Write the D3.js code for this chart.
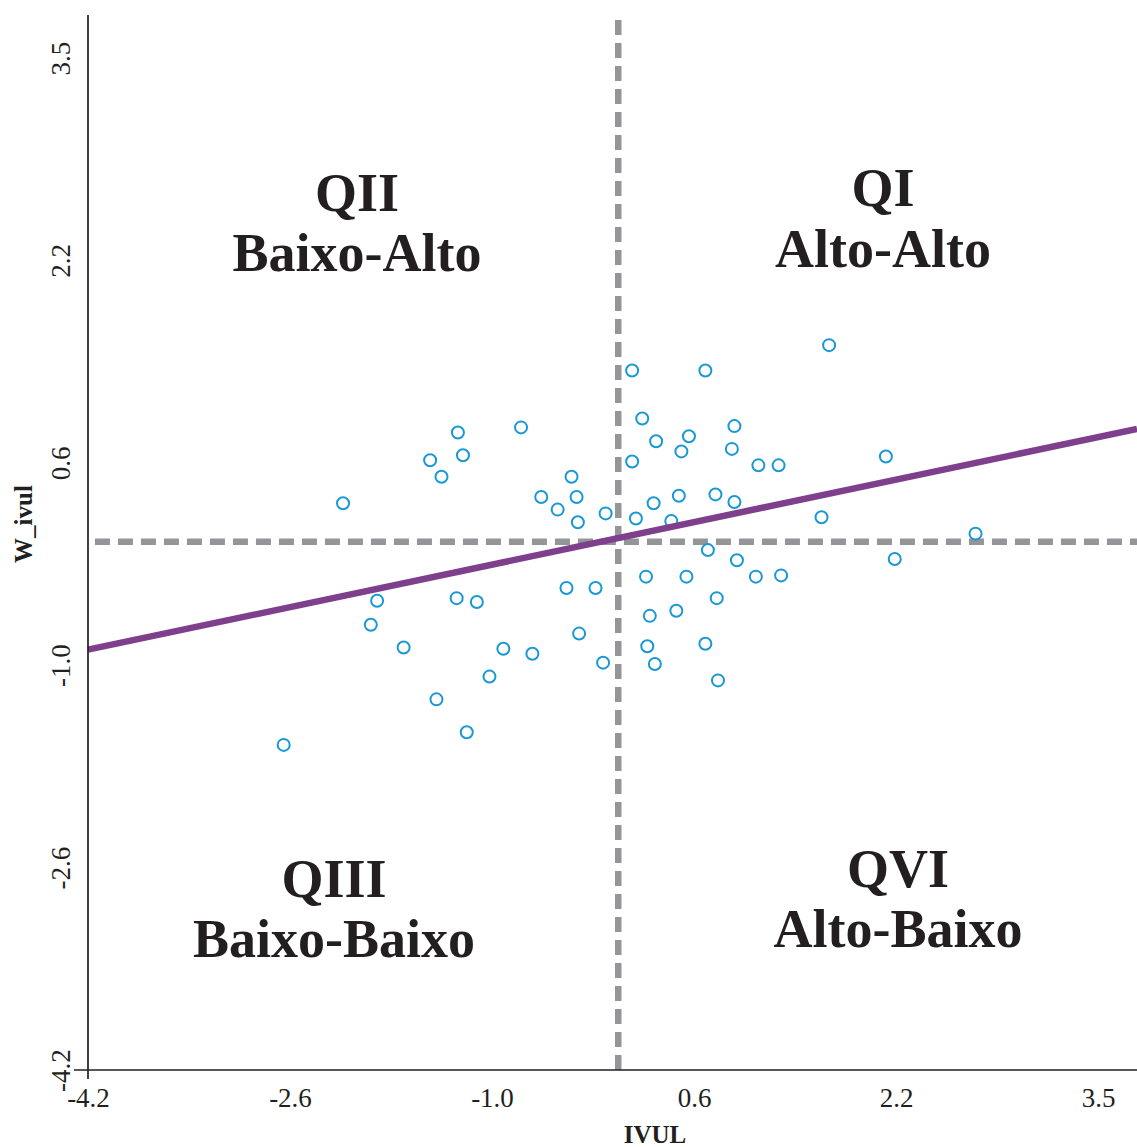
<!DOCTYPE html>
<html>
<head>
<meta charset="utf-8">
<script src="https://cdn.jsdelivr.net/npm/d3@7"></script>
<style>
  html, body { margin: 0; padding: 0; background: #ffffff; }
  svg { display: block; }
</style>
</head>
<body>
<svg id="chart" width="1137" height="1147"></svg>
<script>
// ---------- data ----------
const ivul = [-2.18,-1.27,-0.77,-1.49,-1.23,-1.40,-0.37,-0.61,-0.33,-0.48,-0.32,-0.10,-1.91,-1.96,-1.70,-1.28,-1.12,-0.41,-0.18,-0.31,-0.91,-0.68,-0.12,-1.02,-1.44,-1.20,-2.65,
  1.67,0.11,0.69,0.19,0.92,0.30,0.56,0.50,0.90,0.11,1.11,1.27,2.12,0.14,0.28,0.48,0.42,0.77,0.92,1.61,2.83,0.71,0.94,2.19,0.22,0.54,1.09,1.29,0.78,0.25,0.46,0.23,0.69,0.29,0.79];
const wIvul = [0.28,0.84,0.88,0.62,0.66,0.49,0.49,0.33,0.33,0.23,0.13,0.20,-0.49,-0.68,-0.86,-0.47,-0.50,-0.39,-0.39,-0.75,-0.87,-0.91,-0.98,-1.09,-1.27,-1.53,-1.63,
  1.53,1.33,1.33,0.95,0.89,0.77,0.81,0.69,0.71,0.61,0.58,0.58,0.65,0.16,0.28,0.34,0.14,0.35,0.29,0.17,0.04,-0.09,-0.17,-0.16,-0.30,-0.30,-0.30,-0.29,-0.47,-0.61,-0.57,-0.85,-0.83,-0.99,-1.12];

const xTickValues = [-4.2, -2.6, -1.0, 0.6, 2.2, 3.8];
const xTickLabels = ["-4.2", "-2.6", "-1.0", "0.6", "2.2", "3.5"];
const yTickValues = [-4.2, -2.6, -1.0, 0.6, 2.2, 3.8];
const yTickLabels = ["-4.2", "-2.6", "-1.0", "0.6", "2.2", "3.5"];

const meanX = 0;
const meanY = -0.025;
const regSlope = 0.21;
const regIntercept = 0.005;

const quadNames = ["QII", "QI", "QIII", "QVI"];
const quadDesc = ["Baixo-Alto", "Alto-Alto", "Baixo-Baixo", "Alto-Baixo"];

const xTitle = "IVUL";
const yTitle = "W_ivul";

// ---------- layout ----------
const svg = d3.select("#chart");
const x = d3.scaleLinear().domain([-4.2, 3.8]).range([88, 1098]);
const y = d3.scaleLinear().domain([-4.2, 3.8]).range([1070, 58]);
const xMax = x.invert(1137);
const yMax = y.invert(15);

const ink = "#231f20";
const serif = "'Liberation Serif', 'Times New Roman', serif";

// quadrant text positions (pixel layout)
const quadPos = [
  {cx: 357, y1: 211, y2: 271},
  {cx: 883, y1: 206, y2: 267},
  {cx: 334, y1: 897, y2: 957},
  {cx: 898, y1: 887, y2: 947}
];

// ---------- dashed mean lines ----------
svg.append("line")
  .attr("x1", x(-4.145)).attr("x2", x(xMax))
  .attr("y1", y(meanY)).attr("y2", y(meanY))
  .attr("stroke", "#939598").attr("stroke-width", 6.5)
  .attr("stroke-dasharray", "15,8");

svg.append("line")
  .attr("x1", x(meanX)).attr("x2", x(meanX))
  .attr("y1", y(yMax) + 5).attr("y2", y(-4.2))
  .attr("stroke", "#939598").attr("stroke-width", 6.5)
  .attr("stroke-dasharray", "15,8");

// ---------- points ----------
const pts = ivul.map((v, i) => ({x: v, y: wIvul[i]}));
svg.append("g").selectAll("circle").data(pts).join("circle")
  .attr("cx", d => x(d.x))
  .attr("cy", d => y(d.y))
  .attr("r", 6)
  .attr("fill", "none")
  .attr("stroke", "#1a98d5")
  .attr("stroke-width", 2);

// ---------- regression line ----------
svg.append("line")
  .attr("x1", x(-4.2)).attr("y1", y(regSlope * -4.2 + regIntercept))
  .attr("x2", x(xMax)).attr("y2", y(regSlope * xMax + regIntercept))
  .attr("stroke", "#7e3f8c").attr("stroke-width", 6.5);

// ---------- axes ----------
const gx = svg.append("g").attr("transform", `translate(0,${y(-4.2)})`)
  .call(d3.axisBottom(x).tickValues(xTickValues)
    .tickFormat((d, i) => xTickLabels[i]).tickSize(0).tickPadding(18));
gx.select(".domain").remove();
gx.selectAll("text")
  .attr("font-family", serif).attr("font-size", 27).attr("fill", ink);

const gy = svg.append("g").attr("transform", `translate(${x(-4.2)},0)`)
  .call(d3.axisLeft(y).tickValues(yTickValues)
    .tickFormat((d, i) => yTickLabels[i]).tickSize(0));
gy.select(".domain").remove();
gy.selectAll("text")
  .attr("transform", "rotate(-90)")
  .attr("x", 0).attr("y", -18).attr("dy", 0)
  .attr("text-anchor", "middle")
  .attr("font-family", serif).attr("font-size", 27).attr("fill", ink);

// axis lines
svg.append("line")
  .attr("x1", x(-4.2) - 14).attr("x2", x(xMax))
  .attr("y1", y(-4.2)).attr("y2", y(-4.2))
  .attr("stroke", ink).attr("stroke-width", 1.7);
svg.append("line")
  .attr("x1", x(-4.2)).attr("x2", x(-4.2))
  .attr("y1", y(yMax)).attr("y2", y(-4.2) + 9)
  .attr("stroke", ink).attr("stroke-width", 1.7);

// axis titles
svg.append("text")
  .attr("x", 655).attr("y", 1143)
  .attr("text-anchor", "middle")
  .attr("font-family", serif).attr("font-weight", "bold").attr("font-size", 25)
  .attr("fill", ink).text(xTitle);

svg.append("text")
  .attr("transform", "translate(32,524) rotate(-90)")
  .attr("text-anchor", "middle")
  .attr("font-family", serif).attr("font-weight", "bold").attr("font-size", 25)
  .attr("fill", ink).text(yTitle);

// ---------- quadrant labels ----------
quadPos.forEach((p, i) => {
  svg.append("text")
    .attr("x", p.cx).attr("y", p.y1).attr("text-anchor", "middle")
    .attr("font-family", serif).attr("font-weight", "bold").attr("font-size", 54)
    .attr("fill", ink).text(quadNames[i]);
  svg.append("text")
    .attr("x", p.cx).attr("y", p.y2).attr("text-anchor", "middle")
    .attr("font-family", serif).attr("font-weight", "bold").attr("font-size", 54)
    .attr("fill", ink).text(quadDesc[i]);
});
</script>
</body>
</html>
